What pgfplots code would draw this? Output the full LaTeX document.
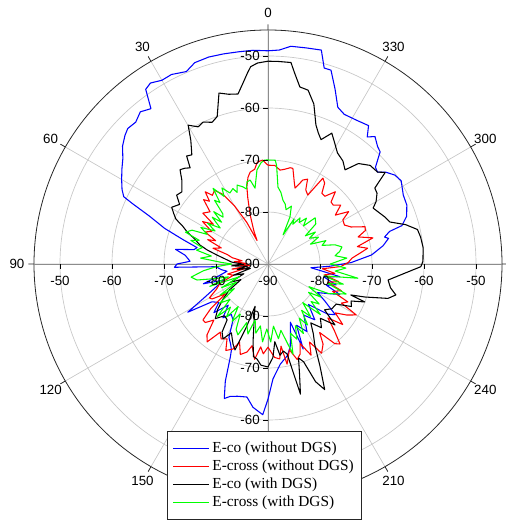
\documentclass[border=0pt]{standalone}
\usepackage{pgfplots}
\pgfplotsset{compat=1.18}
\usepackage{pgfplotstable}
\usepgfplotslibrary{polar}
\usepackage{fontspec}
\setmainfont{Liberation Serif}
\newfontfamily\arial{Liberation Sans}

\pgfplotstableread{
a v
0 -49.0
4 -48.8
8 -48.8
12 -48.7
16 -48.6
20 -48.8
23 -49.8
27 -49.1
30 -49.2
33 -48.5
35 -49.0
37 -52.6
40 -51.8
43 -52.7
46 -52.5
48 -53.0
51 -54.0
54 -55.5
57 -56.5
60 -57.5
63 -58.5
65 -59.4
66 -61.5
68 -65.4
71 -69.0
74 -73.0
77 -76.0
79 -75.5
81 -72.0
84 -74.0
88 -75.0
90 -72.5
92 -72.0
93 -80.0
97 -81
100 -82
104 -80
107 -77
110 -81
114 -79
118 -76
121 -72
124 -77
128 -78
132 -76
136 -79
140 -76.5
144 -78
148 -77.3
152 -74
155 -73
157 -72
158 -70.6
160 -66
162 -62.8
164 -63.5
167 -63.9
171 -64.1
174 -62.3
178 -61
180 -64
182.5 -67.9
187 -70.6
192 -72
195 -73.5
198 -76
201 -78
202.5 -72.3
205 -77
210 -75
215 -78
220 -76
225 -79
230 -75
233 -73.8
237 -77
240 -79
244 -77
247 -75
250 -78
253 -76.3
257 -79
260 -76
263 -80
265 -81.7
268 -78
271 -74
275 -70
279 -67.6
282 -66.3
283 -67
285 -65.8
286 -63.2
289 -61.8
293 -61
297 -60.8
302 -59.8
305 -60.2
308 -61.3
310 -62.5
312 -62.2
315 -59.5
317 -59.1
320 -58
322 -59
324 -57.1
328 -57.5
333 -57.7
336 -57
339 -54
342 -50.8
344 -50.8
346 -47.6
350 -47.8
354 -47.9
357 -48.8
360 -49.0
}\ecoA

\pgfplotstableread{
a v
0 -71
3 -70
6 -70.3
8 -71.6
11 -72
13 -72.9
15.3 -74.6
17 -76.7
20 -80
23 -83
25 -85
27 -81
30 -77
33 -74
36 -72.5
39 -73
41 -71.6
43 -73.5
45 -72.5
48 -75
52 -74.1
54 -77
57 -75
60 -77.5
63 -76.4
66 -79
68 -77.5
71 -80.5
74 -79
77 -82
80 -83
83 -85
86 -83.5
89 -86
92 -84
95 -86.5
98 -83
101 -85.5
104 -82
108 -83
112 -80
116 -79
120 -77
122 -77.3
125 -80
128 -76
130.7 -73.5
133 -73.5
136 -75
139.3 -72
142 -71
145 -74
148 -73
151.3 -73.6
154 -71.5
157.6 -72.3
160 -74
163 -71.8
166.6 -72.6
169 -74
172 -71.5
175 -74
177 -72.7
180 -74
184 -72
187 -71.6
189 -74
190.8 -70.4
194 -73
197 -70.8
199.6 -71.6
202 -73.5
205.3 -70.6
208 -73
211 -70
214.5 -71.3
217 -73.5
220 -70
222 -69.3
225 -72
228 -74.5
231 -71.5
234 -74
237 -72
240 -70.4
242 -74
244.6 -73
247 -76.5
250 -75
253 -78
256 -76
259 -79
262 -77
265 -79.5
268 -76
271 -74.6
274 -73.8
277 -72
279 -70.6
281 -72.5
284 -69.2
286.7 -71.9
289 -70.2
291 -70
294 -72.5
297 -73.5
300.5 -73.3
303 -71.5
306 -74
309 -72
312 -73.1
314.5 -73
317 -71
320 -73
322.7 -72.9
325 -71
327.4 -70.4
330 -74.7
333 -74
335 -72
337.4 -72.5
340.4 -74.5
342 -73.6
345.4 -71
347 -71
350 -71.5
352.7 -71.8
356 -71
360 -71
}\excA

\pgfplotstableread{
a v
0 -51
3 -51.3
5 -51.9
6 -52.9
8 -55
10 -56.8
13 -56.5
16 -55.8
19 -60
21.5 -60.7
24.6 -60
27 -60.4
29.9 -59.2
32 -62
34.9 -64.4
37 -64
39 -66.2
41 -65.6
43 -65.2
46 -67
48.5 -67.9
50 -68.4
53 -68
56 -69.5
59.5 -68.5
62 -69.5
64 -70.3
66 -72
68.4 -73.3
71 -75
74.4 -76.4
77 -78
80 -80
84 -82
87 -83
90 -85
93 -83
96 -86
100 -84
104 -86.5
108 -83
112 -85
116 -82
120 -84
124 -81
128 -79
132 -77
136 -75.4
140 -77
143.8 -76.7
146 -74.2
149 -73.2
152 -75
156.4 -73.2
159 -72.3
161 -77
163 -81.5
166 -79
169 -75
171 -72
173.4 -71.6
176 -70.5
180 -70.2
183 -72
185 -75
187.5 -72.3
190 -73
192 -72.3
194 -64.2
196 -68
198 -71
200 -70
202 -65.6
204.3 -63.5
207 -68
210 -72
213 -74
216 -76
220 -74
224 -75.5
227.7 -72.6
231 -76
235 -75
239.5 -74.8
243 -72
246 -72.5
248.6 -70
249.5 -73
251.2 -70.3
254 -66
256.4 -64.7
259 -66
262.4 -66.7
265.2 -64.5
269 -60.6
271 -60.2
276 -60
280 -60.2
283 -60.5
286 -62.5
289 -65.2
292 -65.8
295 -66.5
298 -67.1
300 -66
303 -65
305.4 -64.8
308 -61.4
310 -62.5
314 -62.7
318 -64
320.7 -66.6
324 -65.5
328 -64.8
331 -63.5
334 -62
336.9 -64
339 -63
341 -61.7
344 -58
347 -55.7
349.8 -55.4
352 -53
353.5 -51
357 -51
360 -51
}\ecoB

\pgfplotstableread{
a v
0 -70
2 -70
4 -70.5
6.7 -71.8
9.7 -75.2
12 -73.5
14.4 -73.7
16 -75
18 -74.4
21.4 -73.7
23.3 -75
25 -74
28.2 -74.5
31.2 -72.9
33 -74.5
36 -72
38 -75
40 -74
42 -77
43.8 -77.5
46 -75.5
48 -78
50 -76
53 -78.5
56 -76
58 -78
61.4 -75.3
64 -77
66 -74
68.9 -73
71 -76
73 -74.5
76 -77
79 -76
82 -79
85 -77
88 -81
90 -83
93 -80
96 -77.5
99.7 -75
102.7 -76
105 -79
108 -82
111 -78
114 -84
117 -80
120 -83
123 -79
126 -82
129 -78
133 -80
136 -75.9
139 -79
142 -77
145 -80
148 -77
151 -79
154 -76
157 -75.2
160 -78
164 -76
167 -79
170 -76.5
173 -78
176 -75
179 -77.5
182 -75
185 -78
188 -75.5
191 -77
195.5 -72
198 -76
201 -74.5
204 -77
207 -75
210 -78
213 -76
216 -79
219 -77
222 -80
226 -76
229 -79
232 -77.5
235 -80.5
238 -78
241 -81
244 -77
249 -73.9
252 -78
255 -75
258 -79
261 -72.5
264 -77
267 -75
270 -78
274.3 -74.8
277 -77
280 -76
283 -75.4
286 -76.6
289 -79
292 -78
295 -81
298 -79
301.8 -80.6
304 -79
307 -81
310 -78
314.4 -77.3
317 -80
320 -78.5
323 -80
325.2 -79.2
328 -81
330 -80
332.6 -83.7
335 -80
338 -78
341.6 -79
344 -78
346.8 -77.4
349.8 -76
352.6 -75.1
355 -71
356 -70
360 -70
}\excB

\tikzset{rl/.style={inner sep=1pt, font=\arial\fontsize{10}{12}\selectfont},
  rt/.style={black, line width=0.5pt}}

\begin{document}
\begin{tikzpicture}
\begin{polaraxis}[
  scale only axis, width=351pt, height=351pt,
  clip=false,
  xmin=0, xmax=360, ymin=0, ymax=45,
  xtick={0,30,...,330},
  xticklabels={},
  ytick={10,20,30,40},
  yticklabels={},
  ymajorgrids, xmajorgrids,
  grid style={black!22, line width=0.5pt},
  axis line style={black!85, line width=0.6pt},
  xtick style={black!85, line width=0.6pt},
  ytick style={draw=none},
  legend style={at={(axis cs:238.84,37.54)}, anchor=north west,
    draw=black!85, line width=0.5pt, fill=white,
    font=\fontsize{11.5}{13}\selectfont, cells={anchor=west},
    inner xsep=4pt, inner ysep=6pt, row sep=0pt},
  legend image code/.code={\draw[#1, line width=0.8pt] (0pt,0pt) -- (27pt,0pt);},
  every axis plot/.append style={line width=0.8pt, line join=round},
]
\draw[black!45, line width=0.6pt] (axis cs:90,45) -- (axis cs:270,45);
\draw[black!45, line width=0.6pt] (axis cs:0,45) -- (axis cs:180,45);
\addplot[blue] table[x expr=\thisrow{a}+90, y expr=\thisrow{v}+90]{\ecoA};
\addlegendentry{E-co (without DGS)}
\addplot[red] table[x expr=\thisrow{a}+90, y expr=\thisrow{v}+90]{\excA};
\addlegendentry{E-cross (without DGS)}
\addplot[black] table[x expr=\thisrow{a}+90, y expr=\thisrow{v}+90]{\ecoB};
\addlegendentry{E-co (with DGS)}
\addplot[green] table[x expr=\thisrow{a}+90, y expr=\thisrow{v}+90]{\excB};
\addlegendentry{E-cross (with DGS)}
\coordinate (C) at (axis cs:0,0);
% angular labels (reference angle measured from the top, counterclockwise)
\node[rl] at ([yshift=12.75pt]axis cs:90,45) {0};
\node[rl] at ([xshift=-6.375pt,yshift=11.04pt]axis cs:120,45) {30};
\node[rl] at ([xshift=-11.04pt,yshift=6.375pt]axis cs:150,45) {60};
\node[rl] at ([xshift=-12.75pt]axis cs:180,45) {90};
\node[rl] at ([xshift=-11.04pt,yshift=-6.375pt]axis cs:210,45) {120};
\node[rl] at ([xshift=-6.375pt,yshift=-11.04pt]axis cs:240,45) {150};
\node[rl] at ([xshift=6.375pt,yshift=-11.04pt]axis cs:300,45) {210};
\node[rl] at ([xshift=11.04pt,yshift=-6.375pt]axis cs:330,45) {240};
\node[rl] at ([xshift=11.04pt,yshift=6.375pt]axis cs:30,45) {300};
\node[rl] at ([xshift=6.375pt,yshift=11.04pt]axis cs:60,45) {330};
% radial tick marks and labels, top
\draw[rt] (axis cs:90,40) -- ++(-4pt,0pt); \node[rl,anchor=east] at ([xshift=-5pt]axis cs:90,40) {-50};
\draw[rt] (axis cs:90,30) -- ++(-4pt,0pt); \node[rl,anchor=east] at ([xshift=-5pt]axis cs:90,30) {-60};
\draw[rt] (axis cs:90,20) -- ++(-4pt,0pt); \node[rl,anchor=east] at ([xshift=-5pt]axis cs:90,20) {-70};
\draw[rt] (axis cs:90,10) -- ++(-4pt,0pt); \node[rl,anchor=east] at ([xshift=-5pt]axis cs:90,10) {-80};
% bottom
\draw[rt] (axis cs:270,30) -- ++(-4pt,0pt); \node[rl,anchor=east] at ([xshift=-5pt]axis cs:270,30) {-60};
\draw[rt] (axis cs:270,20) -- ++(-4pt,0pt); \node[rl,anchor=east] at ([xshift=-5pt]axis cs:270,20) {-70};
\draw[rt] (axis cs:270,10) -- ++(-4pt,0pt); \node[rl,anchor=east] at ([xshift=-5pt]axis cs:270,10) {-80};
% left
\draw[rt] (axis cs:180,40) -- ++(0pt,-4pt); \node[rl,anchor=north] at ([yshift=-8pt]axis cs:180,40) {-50};
\draw[rt] (axis cs:180,30) -- ++(0pt,-4pt); \node[rl,anchor=north] at ([yshift=-8pt]axis cs:180,30) {-60};
\draw[rt] (axis cs:180,20) -- ++(0pt,-4pt); \node[rl,anchor=north] at ([yshift=-8pt]axis cs:180,20) {-70};
\draw[rt] (axis cs:180,10) -- ++(0pt,-4pt); \node[rl,anchor=north] at ([yshift=-8pt]axis cs:180,10) {-80};
% right
\draw[rt] (axis cs:0,40) -- ++(0pt,-4pt); \node[rl,anchor=north] at ([yshift=-8pt]axis cs:0,40) {-50};
\draw[rt] (axis cs:0,30) -- ++(0pt,-4pt); \node[rl,anchor=north] at ([yshift=-8pt]axis cs:0,30) {-60};
\draw[rt] (axis cs:0,20) -- ++(0pt,-4pt); \node[rl,anchor=north] at ([yshift=-8pt]axis cs:0,20) {-70};
\draw[rt] (axis cs:0,10) -- ++(0pt,-4pt); \node[rl,anchor=north] at ([yshift=-8pt]axis cs:0,10) {-80};
% centre
\node[rl,anchor=north] at ([yshift=-8pt]axis cs:0,0) {-90};
\node[rl,anchor=east] at ([xshift=-5pt]axis cs:0,0) {-90};
\end{polaraxis}
\pgfresetboundingbox
\path[use as bounding box] ([xshift=-201pt,yshift=-198pt]C) rectangle ([xshift=178.5pt,yshift=198pt]C);
\end{tikzpicture}
\end{document}
